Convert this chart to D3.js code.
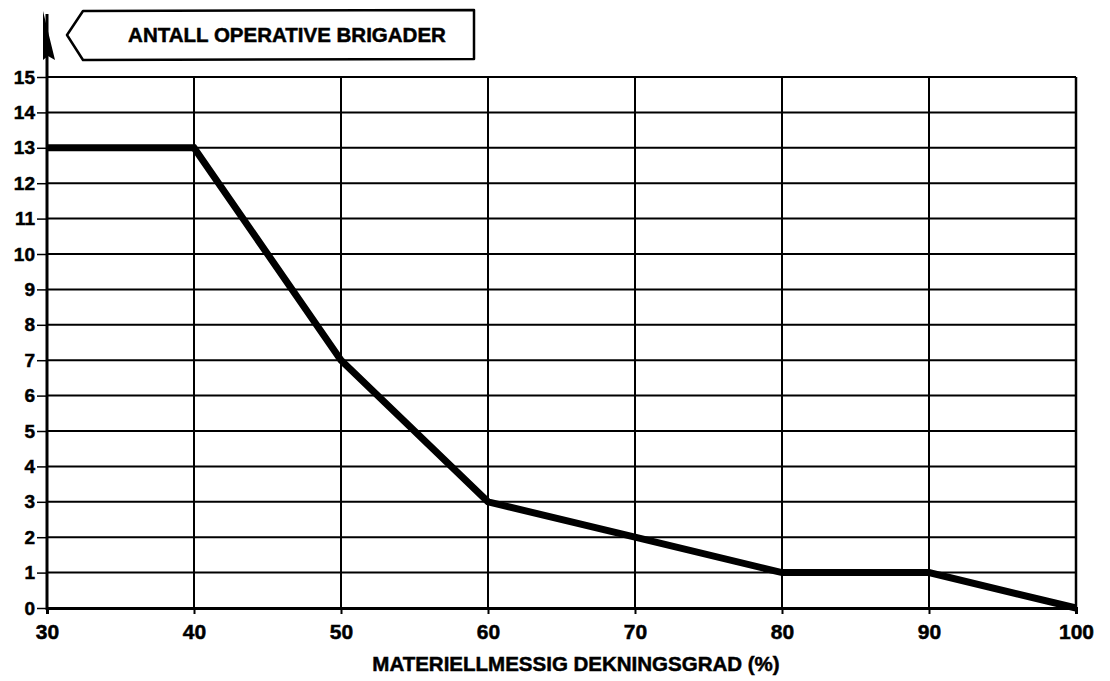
<!DOCTYPE html>
<html>
<head>
<meta charset="utf-8">
<script src="https://cdn.jsdelivr.net/npm/d3@7"></script>
<style>
  body { margin: 0; background: #fff; }
  text { font-family: "Liberation Sans", Arial, sans-serif; font-weight: bold; fill: #000; stroke: #000; stroke-width: 0.5px; }
</style>
</head>
<body>
<svg id="chart" width="1110" height="681"></svg>
<script>
// dekningsgrad (%) vs antall brigader
var coverage = [30, 40, 50, 60, 70, 80, 90, 100];
var brigades = [13, 13, 7, 3, 2, 1, 1, 0];
var xTicks = [30, 40, 50, 60, 70, 80, 90, 100];
var yTicks = d3.range(0, 16);
var yLabel = "ANTALL OPERATIVE BRIGADER";
var xLabel = "MATERIELLMESSIG DEKNINGSGRAD (%)";

var svg = d3.select('#chart');

var x = d3.scaleLinear().domain([30, 100]).range([47, 1076]);
var y = d3.scaleLinear().domain([0, 15]).range([608, 77]);

var grid = svg.append('g');

// horizontal grid lines
grid.selectAll('line.h')
  .data(yTicks.filter(d => d > 0))
  .enter().append('line')
  .attr('x1', x(30)).attr('x2', x(100))
  .attr('y1', d => y(d)).attr('y2', d => y(d))
  .attr('stroke', '#000').attr('stroke-width', 2);

// vertical grid lines
grid.selectAll('line.v')
  .data(xTicks.filter(d => d > 30))
  .enter().append('line')
  .attr('x1', d => x(d)).attr('x2', d => x(d))
  .attr('y1', y(0)).attr('y2', y(15))
  .attr('stroke', '#000').attr('stroke-width', d => d == 100 ? 2.5 : 2);

// axes
var xAxis = svg.append('g')
  .attr('transform', 'translate(0,' + y(0) + ')')
  .call(d3.axisBottom(x).tickValues(xTicks).tickSize(6).tickPadding(10));
xAxis.select('.domain').attr('stroke-width', 3);
xAxis.selectAll('.tick line').attr('stroke-width', 2);
xAxis.selectAll('.tick text').style('font-size', '21px').attr('fill', '#000');

var yAxis = svg.append('g')
  .attr('transform', 'translate(' + x(30) + ',0)')
  .call(d3.axisLeft(y).tickValues(yTicks).tickSize(10).tickPadding(2));
yAxis.select('.domain').remove();
yAxis.selectAll('.tick line').attr('stroke-width', 1.5);
yAxis.selectAll('.tick text').style('font-size', '19px').attr('fill', '#000');

// y axis shaft up to the arrow
svg.append('line')
  .attr('x1', x(30)).attr('x2', x(30))
  .attr('y1', y(0) + 2).attr('y2', 14)
  .attr('stroke', '#000').attr('stroke-width', 3);
svg.append('path')
  .attr('d', 'M43,11 L55,60 L48,56 L43,60 Z')
  .attr('fill', '#000');

// label box with pointed left end
svg.append('path')
  .attr('d', 'M67,35 L83,11 L474,10 L474,59 L83,60 Z')
  .attr('fill', 'none').attr('stroke', '#000').attr('stroke-width', 2.5)
  .attr('stroke-linejoin', 'round');
svg.append('text')
  .attr('x', 287).attr('y', 42)
  .attr('text-anchor', 'middle')
  .style('font-size', '20.5px')
  .text(yLabel);

svg.append('text')
  .attr('x', 576).attr('y', 671)
  .attr('text-anchor', 'middle')
  .style('font-size', '20.5px')
  .text(xLabel);

// data line
var line = d3.line()
  .x((d, i) => x(coverage[i]))
  .y(d => y(d));

svg.append('path')
  .datum(brigades)
  .attr('d', line)
  .attr('fill', 'none')
  .attr('stroke', '#000')
  .attr('stroke-width', 7)
  .attr('stroke-linejoin', 'miter');
</script>
</body>
</html>
